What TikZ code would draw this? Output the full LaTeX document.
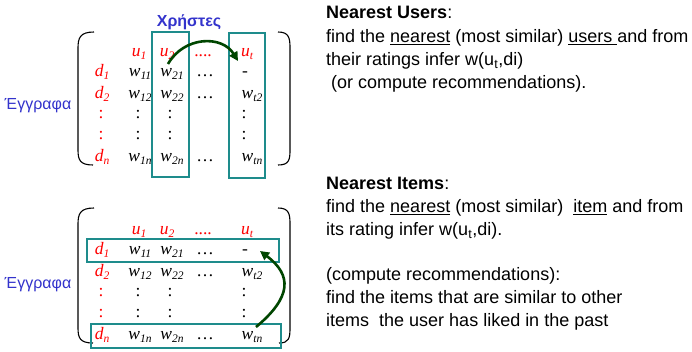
\documentclass[tikz,border=0pt]{standalone}
\usepackage{fontspec}
\setmainfont{Liberation Sans}
\newfontfamily\matfont{Liberation Serif}
\usetikzlibrary{arrows.meta}

\definecolor{boxteal}{RGB}{30,140,140}
\definecolor{arrgreen}{RGB}{0,70,0}
\definecolor{lblblue}{RGB}{51,51,204}

% symbol with a lowered index
\newcommand\ix[2]{#1\raisebox{-3pt}{\fontsize{11.5}{12}\selectfont #2}}

% the ratings table: #1 = name prefix
\newcommand\ratingtable[1]{%
  \node[hdr] (#1u1) at (139,57) {\ix{u}{1}};
  \node[hdr] (#1u2) at (167,57) {\ix{u}{2}};
  \node[rellip] (#1uh) at (203,57) {....};
  \node[hdr] (#1ut) at (247,57) {\ix{u}{t}};
  % row d1
  \node[hdr]   (#1d1)  at (102,77) {\ix{d}{1}};
  \node[mcell] (#1w11) at (140,77) {\ix{w}{11}};
  \node[mcell] (#1w21) at (172,77) {\ix{w}{21}};
  \node[ellip] (#1e1)  at (205,77) {\ldots};
  \node[ellip] (#1wt1) at (245,77) {-};
  % row d2
  \node[hdr]   (#1d2)  at (102,99) {\ix{d}{2}};
  \node[mcell] (#1w12) at (140,99) {\ix{w}{12}};
  \node[mcell] (#1w22) at (172,99) {\ix{w}{22}};
  \node[ellip] (#1e2)  at (205,99) {\ldots};
  \node[mcell] (#1wt2) at (252,99) {\ix{w}{t2}};
  % vertical dots
  \foreach \r/\yy in {a/119,b/140}{
    \node[rellip] (#1c\r d) at (101,\yy) {:};
    \node[ellip]  (#1c\r 1) at (138,\yy) {:};
    \node[ellip]  (#1c\r 2) at (170,\yy) {:};
    \node[ellip]  (#1c\r t) at (244,\yy) {:};
  }
  % row dn
  \node[hdr]   (#1dn)  at (102,162) {\ix{d}{n}};
  \node[mcell] (#1w1n) at (140,162) {\ix{w}{1n}};
  \node[mcell] (#1w2n) at (172,162) {\ix{w}{2n}};
  \node[ellip] (#1en)  at (205,162) {\ldots};
  \node[mcell] (#1wtn) at (252,162) {\ix{w}{tn}};
}

\begin{document}
\begin{tikzpicture}[x=1pt,y=-1pt,
  mcell/.style={inner sep=0pt, anchor=base, font=\fontsize{17.5}{20}\selectfont\matfont\itshape},
  hdr/.style={mcell, text=red},
  ellip/.style={inner sep=0pt, anchor=base, font=\fontsize{17.5}{20}\selectfont\matfont},
  rellip/.style={ellip, text=red},
  pick/.style={draw=boxteal, line width=2pt, inner sep=0pt},
  paren/.style={draw=black, line width=1.1pt},
  link/.style={draw=arrgreen, line width=2.6pt, -{Triangle[length=9pt,width=9pt]}},
  axislabel/.style={inner sep=0pt, anchor=base, text=lblblue, font=\fontsize{16}{18}\selectfont},
  note/.style={inner sep=0pt, anchor=base west, font=\fontsize{18}{20}\selectfont},
]
\fill[white] (0,0) rectangle (692,352);
\useasboundingbox (0,0) rectangle (692,352);

% ---------- user-based table ----------
\node[axislabel, font=\fontsize{16}{18}\selectfont\bfseries] (users) at (189,27) {Χρήστες};
\node[axislabel] (docsA) at (38,110) {Έγγραφα};

\draw[paren] (94,32) .. controls (80,32) and (78,38) .. (78,48) -- (78,150)
  .. controls (78,160) and (80,165) .. (93,165);
\draw[paren] (278,32) .. controls (289,32) and (290,38) .. (290,48) -- (290,150)
  .. controls (290,160) and (289,165) .. (278,165);

\ratingtable{t}

\node[pick, minimum width=37pt, minimum height=145pt] (colbox) at (170.5,104.5) {};
\node[pick, minimum width=36pt, minimum height=145pt] (tgtbox) at (247,105.5) {};

\coordinate (ufrom) at (168,64);
\coordinate (uto) at (238,61);
\draw[link] (ufrom) .. controls (184,36) and (222,35) .. (uto);

% ---------- item-based table ----------
\node[axislabel] (docsB) at (38,288) {Έγγραφα};

\draw[paren] (94,208) .. controls (80,208) and (78,214) .. (78,224) -- (78,328)
  .. controls (78,338) and (80,343) .. (93,343);
\draw[paren] (278,208) .. controls (289,208) and (290,214) .. (290,224) -- (290,328)
  .. controls (290,338) and (289,343) .. (279,343);

\begin{scope}[yshift=-177.5pt]
  \ratingtable{b}
\end{scope}

\node[pick, minimum width=192pt, minimum height=23pt] (rowbox) at (183,250.5) {};
\node[pick, minimum width=190pt, minimum height=24pt] (simbox) at (186,336) {};

\coordinate (ifrom) at (256,327);
\coordinate (ito) at (260,251);
\draw[link] (ifrom) .. controls (292,297) and (292,275) .. (ito);

% ---------- explanations ----------
\node[note] (nu1) at (326,19) {\textbf{Nearest Users}:};
\node[note] (nu2) at (326,43) {find the \underline{nearest} (most similar) \underline{users\ }and from};
\node[note] (nu3) at (326,66) {their ratings infer w(u\textsubscript{t},di)};
\node[note] (nu4) at (326,89) {\ (or compute recommendations).};

\node[note] (ni1) at (326,190) {\textbf{Nearest Items}:};
\node[note] (ni2) at (326,213) {find the \underline{nearest} (most similar) \ \underline{item} and from};
\node[note] (ni3) at (326,236) {its rating infer w(u\textsubscript{t},di).};
\node[note] (ni4) at (326,280) {(compute recommendations):};
\node[note] (ni5) at (326,303) {find the items that are similar to other};
\node[note] (ni6) at (326,326) {items \ the user has liked in the past};
\end{tikzpicture}
\end{document}
